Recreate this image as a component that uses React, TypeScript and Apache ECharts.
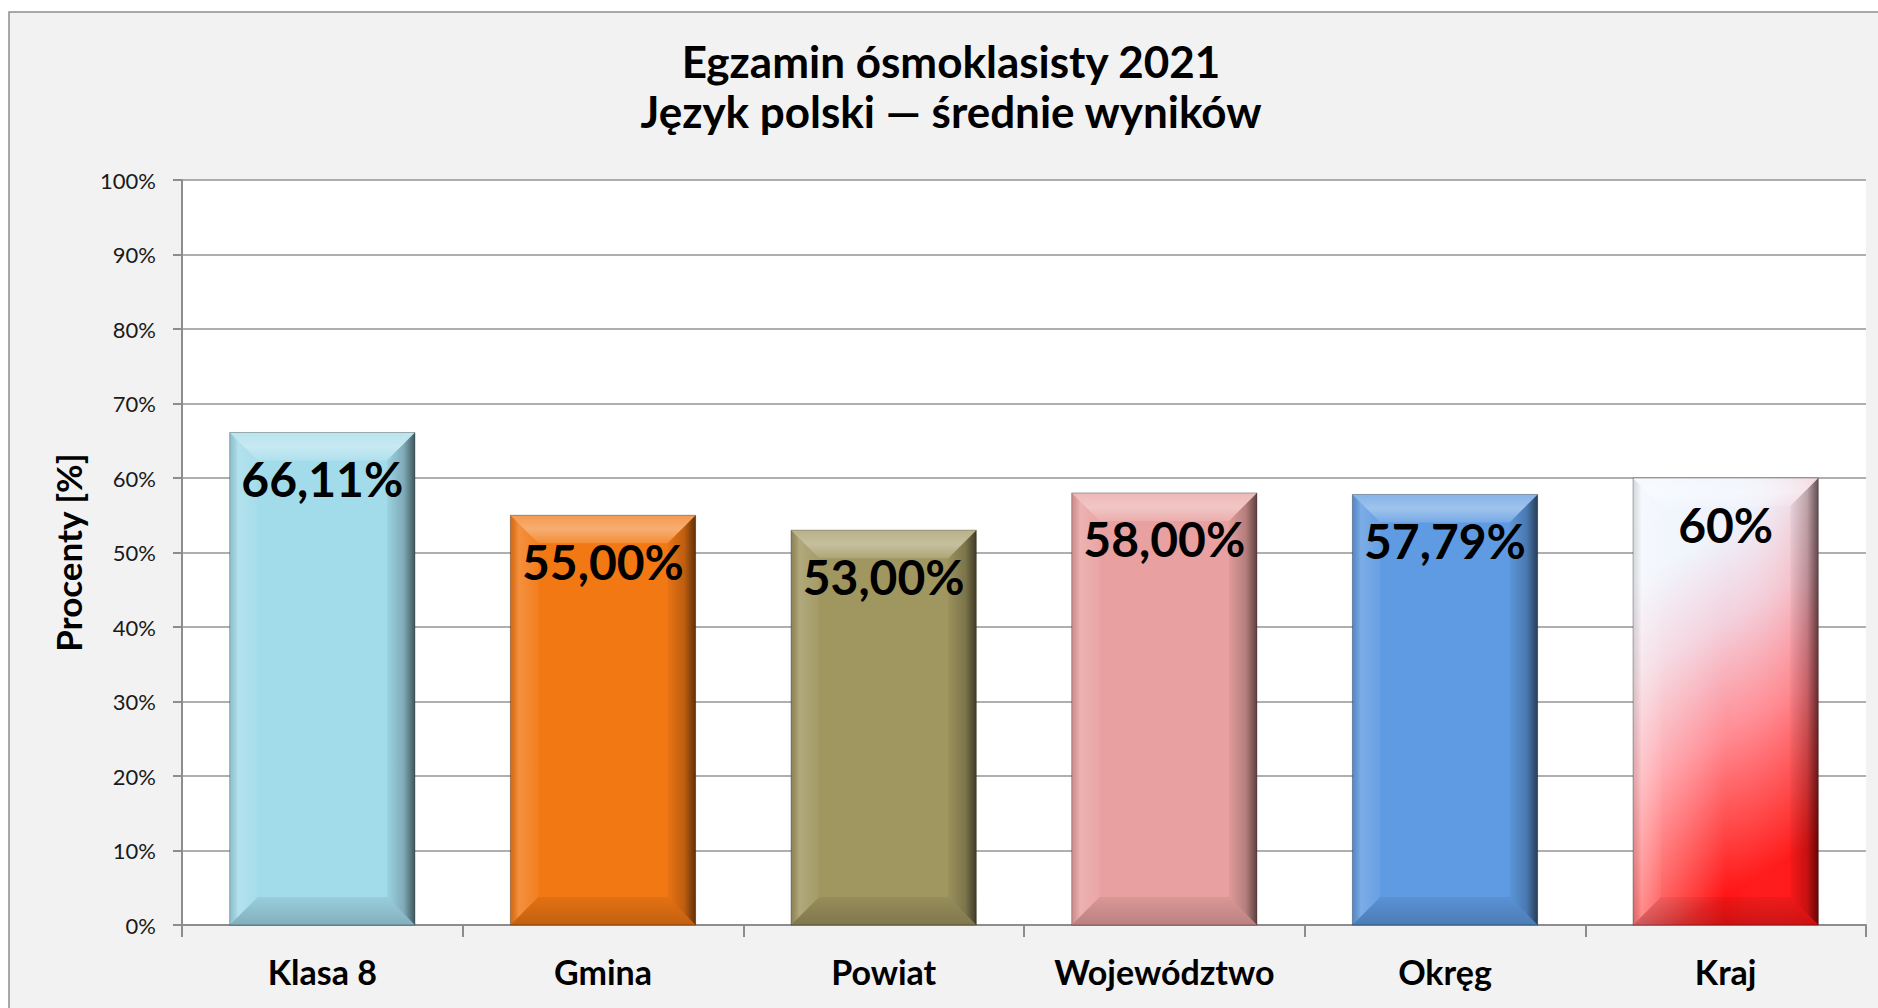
import React, { useEffect, useRef } from "react";
import * as echarts from "echarts";

const categories = ["Klasa 8", "Gmina", "Powiat", "Województwo", "Okręg", "Kraj"];
const values = [66.11, 55.0, 53.0, 58.0, 57.79, 60];
const valueLabels = ["66,11%", "55,00%", "53,00%", "58,00%", "57,79%", "60%"];
const yTicks = [0, 10, 20, 30, 40, 50, 60, 70, 80, 90, 100];
const titleLines = ["Egzamin ósmoklasisty 2021", "Język polski — średnie wyników"];
const yAxisName = "Procenty [%]";

const FONT = "Lato, 'Noto Sans', sans-serif";
const BAR_RATIO = 0.66;
const BEVEL = 28;

const krajFill = {
  type: "linear",
  x: 0,
  y: 0,
  x2: 0.25,
  y2: 1,
  colorStops: [
    { offset: 0, color: "#eef4fd" },
    { offset: 0.22, color: "#eef3fc" },
    { offset: 0.42, color: "#f3d0dc" },
    { offset: 0.66, color: "#ff8c94" },
    { offset: 0.88, color: "#ff4040" },
    { offset: 1, color: "#ff1414" },
  ],
};

const barFills: any[] = ["#a2dbea", "#f27814", "#a09660", "#e8a1a0", "#5f9be2", krajFill];

export default function App() {
  const ref = useRef<HTMLDivElement>(null);
  useEffect(() => {
    if (!ref.current) return;
    const chart = echarts.init(ref.current, null, { renderer: "svg" });

    const renderItem = (params: any, api: any) => {
      const idx = api.value(0);
      const val = api.value(1);
      const top = api.coord([idx, val]);
      const base = api.coord([idx, 0]);
      const catW = api.size([1, 0])[0];
      const w = catW * BAR_RATIO;
      const x = top[0] - w / 2;
      const y = top[1];
      const h = base[1] - top[1];
      const b = BEVEL;
      const fill = barFills[params.dataIndex];
      const children: any[] = [
        { type: "rect", shape: { x, y, width: w, height: h }, style: { fill } },
      ];
      if (params.dataIndex === 5) {
        children.push({
          type: "rect",
          shape: { x, y, width: w, height: h },
          style: {
            fill: {
              type: "linear", x: 0, y: 0, x2: 1, y2: 0,
              colorStops: [
                { offset: 0, color: "rgba(255,255,255,0.35)" },
                { offset: 0.5, color: "rgba(255,255,255,0)" },
                { offset: 1, color: "rgba(255,0,0,0.15)" },
              ],
            },
          },
        });
      }
      children.push({
        type: "polygon",
        shape: { points: [[x, y], [x + w, y], [x + w - b, y + b], [x + b, y + b]] },
        style: {
          fill: {
            type: "linear", x: 0, y: 0, x2: 0, y2: 1,
            colorStops: [
              { offset: 0, color: "rgba(255,255,255,0.25)" },
              { offset: 0.5, color: "rgba(255,255,255,0.4)" },
              { offset: 1, color: "rgba(255,255,255,0.15)" },
            ],
          },
        },
      });
      children.push({
        type: "polygon",
        shape: { points: [[x, y], [x + b, y + b], [x + b, y + h - b], [x, y + h]] },
        style: {
          fill: {
            type: "linear", x: 0, y: 0, x2: 1, y2: 0,
            colorStops: [
              { offset: 0, color: "rgba(0,0,0,0.12)" },
              { offset: 0.3, color: "rgba(255,255,255,0.18)" },
              { offset: 1, color: "rgba(255,255,255,0.05)" },
            ],
          },
        },
      });
      children.push({
        type: "polygon",
        shape: { points: [[x + w, y], [x + w, y + h], [x + w - b, y + h - b], [x + w - b, y + b]] },
        style: {
          fill: {
            type: "linear", x: 0, y: 0, x2: 1, y2: 0,
            colorStops: [
              { offset: 0, color: "rgba(0,0,0,0.04)" },
              { offset: 0.6, color: "rgba(0,0,0,0.22)" },
              { offset: 1, color: "rgba(0,0,0,0.6)" },
            ],
          },
        },
      });
      children.push({
        type: "polygon",
        shape: { points: [[x, y + h], [x + w, y + h], [x + w - b, y + h - b], [x + b, y + h - b]] },
        style: {
          fill: {
            type: "linear", x: 0, y: 0, x2: 0, y2: 1,
            colorStops: [
              { offset: 0, color: "rgba(0,0,0,0.06)" },
              { offset: 1, color: "rgba(0,0,0,0.2)" },
            ],
          },
        },
      });
      children.push({
        type: "rect",
        shape: { x, y, width: w, height: h },
        style: { fill: "none", stroke: "rgba(0,0,0,0.3)", lineWidth: 1 },
      });
      children.push({
        type: "text",
        x: top[0],
        y: y + 46,
        style: {
          text: valueLabels[params.dataIndex],
          fontFamily: FONT,
          fontSize: 48,
          fontWeight: "bold",
          fill: "#000",
          align: "center",
          verticalAlign: "middle",
          textAlign: "center",
          textVerticalAlign: "middle",
        },
      });
      return { type: "group", children };
    };

    chart.setOption({
      animation: false,
      backgroundColor: "transparent",
      graphic: [
        {
          type: "rect",
          z: -10,
          shape: { x: 9, y: 12, width: 1900, height: 1100 },
          style: { fill: "#f2f2f2", stroke: "#8d8d8d", lineWidth: 1.5 },
        },
        ...titleLines.map((t, i) => ({
          type: "text",
          x: 951,
          y: 61 + i * 50,
          style: {
            text: t,
            fontFamily: FONT,
            fontSize: 44,
            fontWeight: "bold",
            fill: "#000",
            align: "center",
            verticalAlign: "middle",
            textAlign: "center",
            textVerticalAlign: "middle",
          },
        })),
      ],
      grid: {
        left: 182,
        right: 12,
        top: 180,
        bottom: 83,
        show: true,
        backgroundColor: "#ffffff",
        borderWidth: 0,
        containLabel: false,
      },
      xAxis: {
        type: "category",
        data: categories,
        axisLine: { show: true, lineStyle: { color: "#8d8d8d", width: 2 } },
        axisTick: { show: true, interval: 0, length: 12, lineStyle: { color: "#8d8d8d", width: 2 } },
        axisLabel: {
          interval: 0,
          hideOverlap: false,
          fontFamily: FONT,
          fontSize: 34,
          fontWeight: "bold",
          color: "#000",
          margin: 29,
        },
      },
      yAxis: {
        type: "value",
        min: yTicks[0],
        max: yTicks[yTicks.length - 1],
        interval: yTicks[1] - yTicks[0],
        name: yAxisName,
        nameLocation: "middle",
        nameRotate: 90,
        nameGap: 97,
        nameTextStyle: { fontFamily: FONT, fontSize: 35, fontWeight: "bold", color: "#000" },
        axisLine: { show: true, lineStyle: { color: "#8d8d8d", width: 2 } },
        axisTick: { show: true, length: 9, lineStyle: { color: "#8d8d8d", width: 2 } },
        axisLabel: {
          formatter: "{value}%",
          fontFamily: FONT,
          fontSize: 22,
          color: "#1a1a1a",
          margin: 26,
        },
        splitLine: { show: true, lineStyle: { color: "#959595", width: 1.5 } },
      },
      series: [
        {
          type: "custom",
          renderItem,
          encode: { x: 0, y: 1 },
          data: categories.map((_, i) => [i, values[i]]),
          z: 3,
        },
      ],
    });
    return () => chart.dispose();
  }, []);
  return (
    <div
      ref={ref}
      style={{ position: "fixed", left: 0, top: 0, width: 1878, height: 1008, background: "#fff" }}
    />
  );
}
